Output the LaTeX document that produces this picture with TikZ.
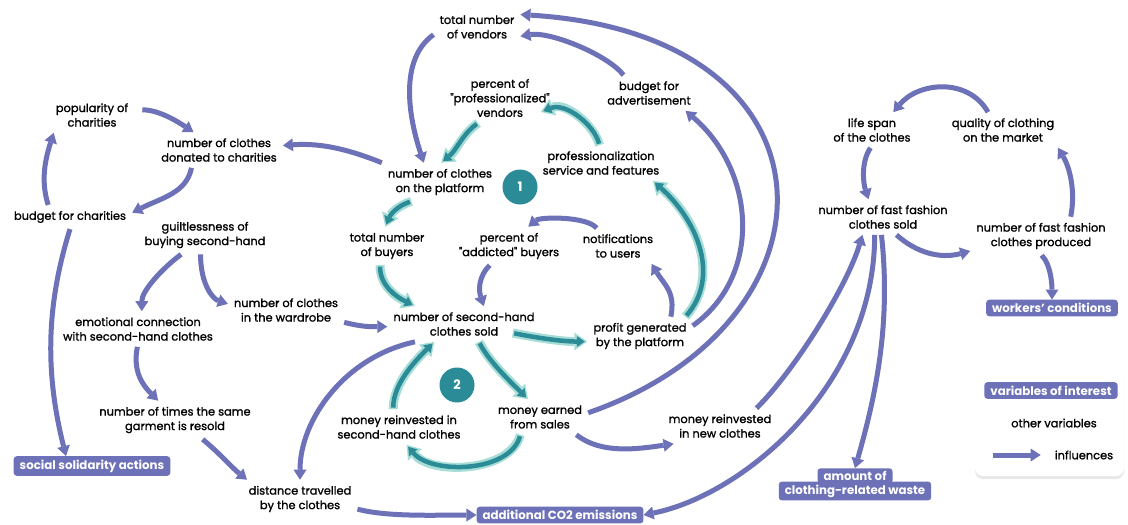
\documentclass[tikz,border=0pt]{standalone}
\usepackage{fontspec}
\setmainfont{Poppins}
\newfontfamily\medfont{Poppins}[FakeBold=1.3]
\usetikzlibrary{arrows.meta,shadows}
\definecolor{purp}{HTML}{6D71B7}
\definecolor{tealD}{HTML}{2B8B97}
\definecolor{tealL}{HTML}{A6DDD7}
\begin{document}
\begin{tikzpicture}[x=1pt,y=1pt]
\tikzstyle{every node}=[align=center,inner sep=6pt,font=\medfont\fontsize{11.4}{14.5}\selectfont]
\tikzstyle{goal}=[fill=purp,text=white,font=\fontsize{11.8}{13}\selectfont\bfseries,rounded corners=3pt,inner xsep=6pt,inner ysep=3.5pt]
\tikzstyle{loopno}=[circle,fill=tealD,text=white,minimum size=35pt,inner sep=0pt,font=\fontsize{13}{13}\selectfont\bfseries]
\tikzstyle{arr}=[draw=purp,line width=5pt,-{Triangle[length=10pt,width=13pt,line width=0pt]}]
\tikzstyle{tarr}=[draw=tealD,line width=4.5pt,-{Triangle[length=8pt,width=11pt,line width=0pt]},shorten >=2.5pt,shorten <=1.5pt,
  preaction={draw=tealL,line width=9pt,-{Triangle[length=13pt,width=18pt,line width=0pt]},shorten >=0pt,shorten <=0pt}]
\fill[white] (0,0) rectangle (1128,-525);
\useasboundingbox (0,0) rectangle (1128,-525);
% platform loop
\node(vend) at (477,-27) {total number\\of vendors};
\node(adv) at (649,-93) {budget for\\advertisement};
\node(pctpro) at (500,-98) {percent of\\"professionalized"\\vendors};
\node(proserv) at (601,-163) {professionalization\\service and features};
\node(platf) at (440,-182) {number of clothes\\on the platform};
\node(buyers) at (387,-246) {total number\\of buyers};
\node(addict) at (509,-246) {percent of\\"addicted" buyers};
\node(notif) at (618,-246) {notifications\\to users};
\node(sold) at (464,-324) {number of second-hand\\clothes sold};
\node(profit) at (640,-336) {profit generated\\by the platform};
\node(earn) at (540,-417) {money earned\\from sales};
\node(reinsh) at (399,-427) {money reinvested in\\second-hand clothes};
\node(reinnew) at (720,-426) {money reinvested\\in new clothes};
\node[loopno](c1) at (520,-187) {1};
\node[loopno](c2) at (457,-385) {2};
% charities and buyers
\node(pop) at (92,-115) {popularity of\\charities};
\node(donat) at (219,-150) {number of clothes\\donated to charities};
\node(budch) at (70,-217) {budget for charities};
\node(guilt) at (205,-235) {guiltlessness of\\buying second-hand};
\node(wardr) at (286,-310) {number of clothes\\in the wardrobe};
\node(emot) at (138,-329) {emotional connection\\with second-hand clothes};
\node(resold) at (175,-420) {number of times the same\\garment is resold};
\node(dist) at (300,-499) {distance travelled\\by the clothes};
% fast fashion
\node(life) at (872,-130) {life span\\of the clothes};
\node(qual) at (1003,-130) {quality of clothing\\on the market};
\node(ffsold) at (883,-217) {number of fast fashion\\clothes sold};
\node(ffprod) at (1041,-236) {number of fast fashion\\clothes produced};
% variables of interest
\node[goal](social) at (92,-466) {social solidarity actions};
\node[goal](co2) at (560,-515) {additional CO2 emissions};
\node[goal](workers) at (1052,-308) {workers' conditions};
\node[goal,inner ysep=3pt](wastea) at (855,-476) {amount of};
\node[goal,inner ysep=3pt](wasteb) at (855,-491) {clothing-related waste};

\draw[arr] (adv.145) .. controls +(-15,20) and +(30,5) .. (vend.-12);
\draw[arr] (earn.5) .. controls +(260,90) and +(330,-20) .. (vend.16);
\draw[arr] (profit.11) .. controls +(70,50) and +(70,-60) .. (adv.-26);
\draw[arr] (vend.190) .. controls +(-35,-25) and +(-15,45) .. (platf.130);
\draw[arr] (platf.north west) .. controls +(-30,12) and +(40,3) .. (donat.4);
\draw[arr] (donat.-147) .. controls +(-5,-25) and +(30,15) .. (budch.4);
\draw[arr] (budch.151) .. controls +(-8,25) and +(-8,-25) .. (pop.-155);
\draw[arr,shorten <=8pt] (pop.7) .. controls +(25,0) and +(-15,10) .. (donat.145);
\draw[arr] (guilt.-141) .. controls +(-20,-15) and +(0,20) .. (emot.78);
\draw[arr] (guilt.-103) .. controls +(0,-30) and +(-15,5) .. (wardr.174);
\draw[arr] (wardr.-12) .. controls +(20,-5) and +(-15,0) .. (sold.182);
\draw[arr] (emot.-92) .. controls +(-5,-25) and +(-15,15) .. (resold.131);
\draw[arr] (resold.-35) .. controls +(15,-12) and +(-15,12) .. (dist.160);
\draw[arr] (sold.-160) .. controls +(-70,-15) and +(0,60) .. (dist.north);
\draw[arr] (dist.-10) .. controls +(30,-8) and +(-40,0) .. (co2.west);
\draw[arr] (budch.south) .. controls +(-25,-80) and +(-20,80) .. (social.159);
\draw[arr] (earn.-26) .. controls +(25,-20) and +(-35,-5) .. (reinnew.-159);
\draw[arr] (notif.140) .. controls +(-10,12) and +(12,10) .. (addict.45);
\draw[arr] (addict.-135) .. controls +(-12,-12) and +(-5,15) .. (sold.42);
\draw[arr] (profit.32) .. controls +(5,25) and +(12,-20) .. (notif.-28);
\draw[arr] (reinnew.26) .. controls +(40,40) and +(-15,-50) .. (ffsold.-139);
\draw[arr] (ffsold.-115) .. controls +(0,-150) and +(100,20) .. (co2.east);
\draw[arr] (ffsold.-95) .. controls +(10,-90) and +(20,70) .. (wastea.north);
\draw[arr] (qual.130) .. controls +(-20,35) and +(25,30) .. (life.40);
\draw[arr] (life.-95) .. controls +(-10,-15) and +(-5,15) .. (ffsold.129);
\draw[arr] (ffsold.-53) .. controls +(20,-18) and +(-30,-8) .. (ffprod.-168);
\draw[arr] (ffprod.33) .. controls +(5,25) and +(12,-20) .. (qual.-18);
\draw[arr] (ffprod.-88) .. controls +(10,-10) and +(0,12) .. (workers.north);
% loops 1 and 2
\draw[tarr] (pctpro.-131) .. controls +(-15,-10) and +(15,12) .. (platf.87);
\draw[tarr] (proserv.95) .. controls +(-5,20) and +(25,10) .. ([xshift=-15pt,yshift=-14pt]pctpro.east);
\draw[tarr] (profit.23) .. controls +(35,40) and +(45,-40) .. (proserv.-19);
\draw[tarr] (platf.-146) .. controls +(-15,-5) and +(5,12) .. (buyers.95);
\draw[tarr] (buyers.-110) .. controls +(0,-20) and +(-20,10) .. (sold.160);
\draw[tarr] ([xshift=-28pt,yshift=-9pt]sold.east) .. controls +(25,-5) and +(-25,0) .. (profit.186);
\draw[tarr] (sold.-50) .. controls +(10,-20) and +(-15,15) .. (earn.124);
\draw[tarr] (earn.-138) .. controls +(-10,-38) and +(25,-30) .. (reinsh.-67);
\draw[tarr] (reinsh.108) .. controls +(0,25) and +(-20,-20) .. (sold.-149);
% legend
\node[fill=white,rounded corners=8pt,drop shadow={opacity=0.18,shadow xshift=0pt,shadow yshift=-3pt},minimum width=149pt,minimum height=109pt,inner sep=0pt](leg) at (1049.5,-421.5) {};
\node[goal](lvar) at (1051,-390.5) {variables of interest};
\node(lother) at (1054,-423) {other variables};
\node(linfl) at (1084,-455) {influences};
\coordinate (la) at (993,-455);
\draw[arr] (la) -- ([xshift=-8pt]linfl.west);
\end{tikzpicture}
\end{document}
